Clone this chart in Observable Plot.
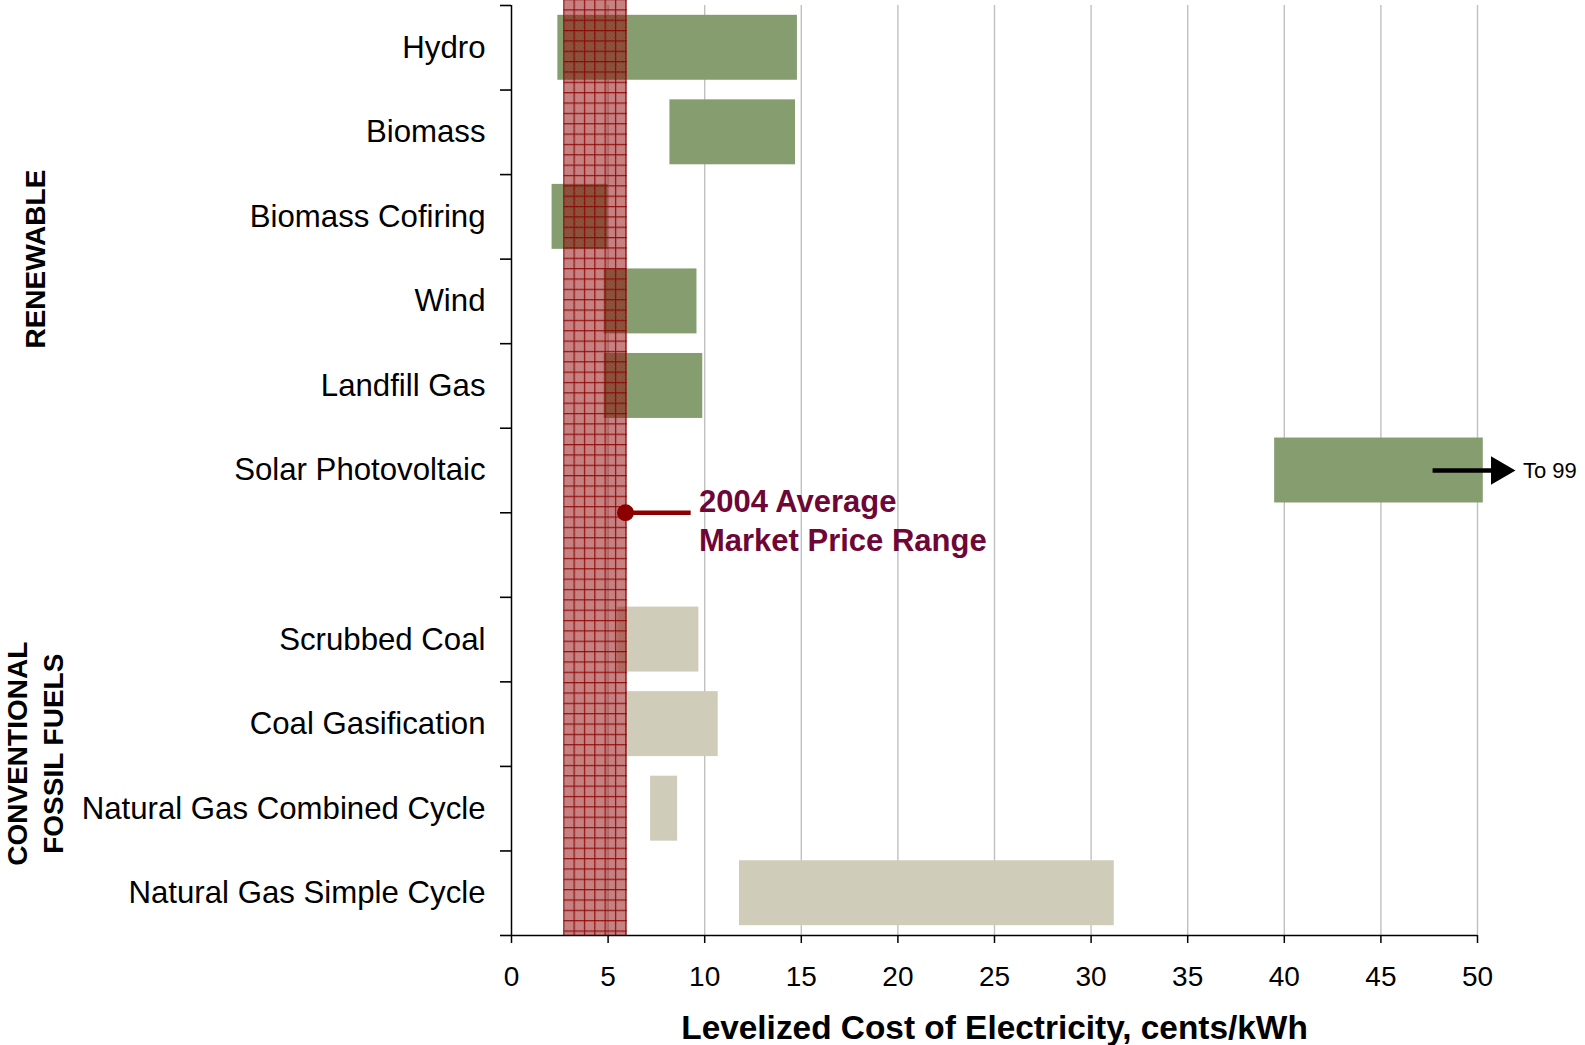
<!DOCTYPE html>
<html>
<head>
<meta charset="utf-8">
<script src="https://cdn.jsdelivr.net/npm/d3@7"></script>
<script src="https://cdn.jsdelivr.net/npm/@observablehq/plot@0.6"></script>
<style>
  html, body { margin: 0; padding: 0; background: white; }
  #chart svg { display: block; }
</style>
</head>
<body>
<div id="chart"></div>
<script>
// ---- data ----
const renewable = ["Hydro", "Biomass", "Biomass Cofiring", "Wind", "Landfill Gas", "Solar Photovoltaic"];
const renewableLow = [2.4, 8.2, 2.1, 4.8, 4.8, 39.5];
const renewableHigh = [14.8, 14.7, 5.0, 9.6, 9.9, 50.3];

const fossil = ["Scrubbed Coal", "Coal Gasification", "Natural Gas Combined Cycle", "Natural Gas Simple Cycle"];
const fossilLow = [5.5, 5.9, 7.2, 11.8];
const fossilHigh = [9.7, 10.7, 8.6, 31.2];

const groupLabels = ["RENEWABLE", "CONVENTIONAL\nFOSSIL FUELS"];

const marketLow = 2.7;
const marketHigh = 6.0;
const marketLabel = "2004 Average\nMarket Price Range";
const marketDotX = 5.9;
const marketLineEnd = 9.3;
const marketTextX = 9.7;

const solarArrowStart = 47.7;
const solarArrowEnd = 52.0;
const solarArrowLabel = "To 99";
const solarLabelX = 52.35;

const xTicks = [0, 5, 10, 15, 20, 25, 30, 35, 40, 45, 50];
const xTitle = "Levelized Cost of Electricity, cents/kWh";

// ---- build rows ----
const GREEN = "#869d70";
const BEIGE = "#cfcdb9";
const rows = [
  ...renewable.map((name, i) => ({name, lo: renewableLow[i], hi: renewableHigh[i], pos: i, fill: GREEN})),
  ...fossil.map((name, i) => ({name, lo: fossilLow[i], hi: fossilHigh[i], pos: renewable.length + 1 + i, fill: BEIGE}))
];
const nCells = renewable.length + 1 + fossil.length;
const boundaries = d3.range(nCells + 1);
const gapPos = renewable.length; // empty cell between groups

const W = 1585, H = 1045;
const mL = 511, mR = 108, mT = 5, mB = 110;
const pxPerUnit = (W - mL - mR) / 50;
const groupX = (33 - mL) / pxPerUnit; // left gutter position for the group titles
const groups = [
  {label: groupLabels[0], center: renewable.length / 2},
  {label: groupLabels[1], center: renewable.length + 1 + fossil.length / 2 - 0.15}
];
const font = "'Liberation Sans', Arial, Helvetica, sans-serif";

const plot = Plot.plot({
  width: W,
  height: H,
  marginLeft: mL,
  marginRight: mR,
  marginTop: mT,
  marginBottom: mB,
  style: {fontFamily: font, background: "white", color: "black"},
  x: {domain: [0, 50]},
  y: {domain: [0, nCells], reverse: true},
  marks: [
    // vertical gridlines
    Plot.ruleX(xTicks.filter(t => t > 0), {y1: 0, y2: nCells, stroke: "#c0c0c0", strokeWidth: 1.4}),
    // cost range bars
    Plot.rect(rows, {
      x1: "lo", x2: "hi",
      y1: d => d.pos, y2: d => d.pos + 1,
      insetTop: 9.8, insetBottom: 9.8,
      fill: d => d.fill
    }),
    // market price band (hatched)
    Plot.rect([{lo: marketLow, hi: marketHigh}], {
      x1: "lo", x2: "hi", y1: () => 0, y2: () => nCells,
      insetTop: -5, fill: "url(#mktPattern)"
    }),
    // axis lines
    Plot.ruleX([0], {y1: 0, y2: nCells, stroke: "black", strokeWidth: 1.5}),
    Plot.ruleY([nCells], {x1: 0, x2: 50, stroke: "black", strokeWidth: 1.5}),
    // category boundary ticks
    Plot.axisY({ticks: boundaries, tickSize: 11, tickFormat: () => "", strokeWidth: 1.6, stroke: "black", label: null}),
    // category labels
    Plot.text(rows, {
      y: d => d.pos + 0.5, frameAnchor: "left", text: "name",
      textAnchor: "end", dx: -26, fontSize: 31.2, fill: "black"
    }),
    // group labels
    Plot.text(groups, {
      x: () => groupX, y: "center", text: "label", rotate: -90,
      fontSize: 28, fontWeight: "bold",
      textAnchor: "middle", lineAnchor: "middle", lineHeight: 1.29, fill: "black"
    }),
    // x axis
    Plot.axisX({ticks: xTicks, tickSize: 8, tickPadding: 23, fontSize: 28, label: null, strokeWidth: 1.5, stroke: "black", tickFormat: d => String(d)}),
    Plot.text([xTitle], {
      frameAnchor: "bottom", text: d => d, dy: 80, lineAnchor: "top",
      fontSize: 33.4, fontWeight: "bold", fill: "black"
    }),
    // market price annotation
    Plot.ruleY([gapPos], {x1: marketDotX, x2: marketLineEnd, stroke: "#8b0000", strokeWidth: 4.5}),
    Plot.dot([{x: marketDotX, y: gapPos}], {x: "x", y: "y", r: 8.5, fill: "#8b0000", stroke: "none"}),
    Plot.text([{x: marketTextX, y: gapPos, t: marketLabel}], {
      x: "x", y: "y", text: "t", textAnchor: "start", lineAnchor: "top",
      dy: -29, fontSize: 31, fontWeight: "bold", lineHeight: 1.26, fill: "#6e0737"
    }),
    // solar arrow
    Plot.ruleY([renewable.length - 0.5], {x1: solarArrowStart, x2: solarArrowEnd, insetRight: 14, stroke: "black", strokeWidth: 4.5}),
    Plot.dot([{x: solarArrowEnd, y: renewable.length - 0.5}], {
      x: "x", y: "y", symbol: "triangle", rotate: 90, r: 10.5, dx: -17, fill: "black", stroke: "none"
    }),
    Plot.text([{x: solarLabelX, y: renewable.length - 0.5, t: solarArrowLabel}], {
      x: "x", y: "y", text: "t", textAnchor: "start", fontSize: 22, fill: "black"
    })
  ]
});

// hatched pattern for the market band
const ns = "http://www.w3.org/2000/svg";
const xs = plot.scale("x");
const px0 = xs.apply(marketLow);
const cell = 10.35;
const defs = document.createElementNS(ns, "defs");
const pat = document.createElementNS(ns, "pattern");
pat.setAttribute("id", "mktPattern");
pat.setAttribute("patternUnits", "userSpaceOnUse");
pat.setAttribute("x", px0);
pat.setAttribute("y", 9.3);
pat.setAttribute("width", cell);
pat.setAttribute("height", cell);
function add(tag, attrs) {
  const el = document.createElementNS(ns, tag);
  for (const k in attrs) el.setAttribute(k, attrs[k]);
  pat.appendChild(el);
}
add("rect", {x: 0, y: 0, width: cell, height: cell, fill: "#8b0000", "fill-opacity": 0.5});
for (let i = 0; i < 5; i++) {
  for (let j = 0; j < 5; j++) {
    if ((i + j) % 2 === 0) add("rect", {x: 1 + i * 2, y: 1 + j * 2, width: 1, height: 1, fill: "#ffffff", "fill-opacity": 0.12});
  }
}
add("line", {x1: 0.6, y1: 0, x2: 0.6, y2: cell, stroke: "#8b0000", "stroke-opacity": 0.85, "stroke-width": 1.3});
add("line", {x1: 0, y1: 0.6, x2: cell, y2: 0.6, stroke: "#8b0000", "stroke-opacity": 0.85, "stroke-width": 1.3});
defs.appendChild(pat);
plot.insertBefore(defs, plot.firstChild);

document.getElementById("chart").appendChild(plot);
</script>
</body>
</html>
